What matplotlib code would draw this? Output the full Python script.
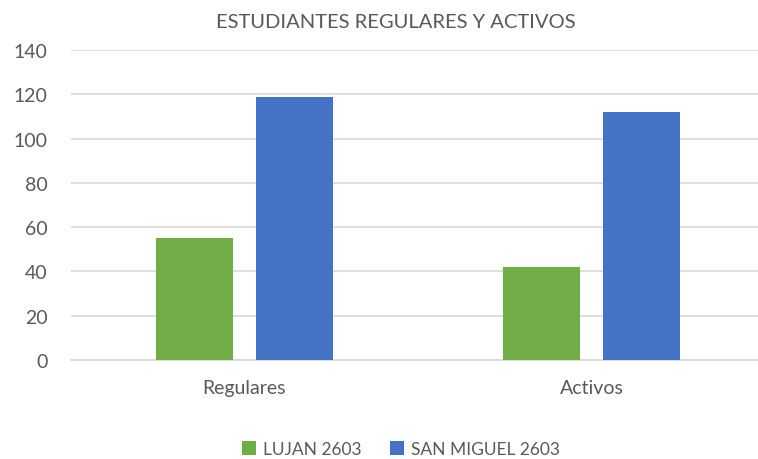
import matplotlib
matplotlib.use("Agg")
import matplotlib.pyplot as plt
import numpy as np

categories = ["Regulares", "Activos"]
series_names = ["LUJAN 2603", "SAN MIGUEL 2603"]
lujan = [55, 42]
san_miguel = [119, 112]
colors = ["#70ad47", "#4472c4"]
yticks = [0, 20, 40, 60, 80, 100, 120, 140]

plt.rcParams['font.family'] = ['Lato', 'DejaVu Sans']
txt = "#595959"

fig = plt.figure(figsize=(7.58, 4.60), dpi=100)
W, H = 758, 460
ax = fig.add_axes([71 / W, (460 - 361) / H, (765 - 71) / W, (361 - 51) / H])

x = np.arange(len(categories))
off = 0.143
bw = 0.222
ax.bar(x - off, lujan, bw, color=colors[0], label=series_names[0], zorder=3)
ax.bar(x + off, san_miguel, bw, color=colors[1], label=series_names[1], zorder=3)

ax.set_xlim(-0.5, 1.5)
ax.set_ylim(0, 140)
ax.set_yticks(yticks)
ax.yaxis.grid(True, color="#d9d9d9", linewidth=1.2, zorder=0)
ax.set_axisbelow(True)
for s in ["top", "right", "left"]:
    ax.spines[s].set_visible(False)
ax.spines["bottom"].set_color("#d9d9d9")
ax.spines["bottom"].set_linewidth(1.2)
ax.set_xticks(x)
ax.set_xticklabels(categories)
ax.tick_params(axis="y", length=0, pad=17, labelsize=14, labelcolor=txt)
ax.tick_params(axis="x", length=0, pad=14, labelsize=14, labelcolor=txt)

fig.text(396 / W, 1 - 22 / H, "ESTUDIANTES REGULARES Y ACTIVOS", ha="center", va="center",
         fontsize=14.5, color=txt)

leg = fig.legend(loc="center", bbox_to_anchor=(401 / W, 1 - 450 / H), ncol=2, frameon=False,
                 fontsize=12.5, handlelength=0.8, handleheight=0.8, handletextpad=0.4,
                 columnspacing=1.6, labelcolor=txt)

fig.savefig("out.png", dpi=100)
